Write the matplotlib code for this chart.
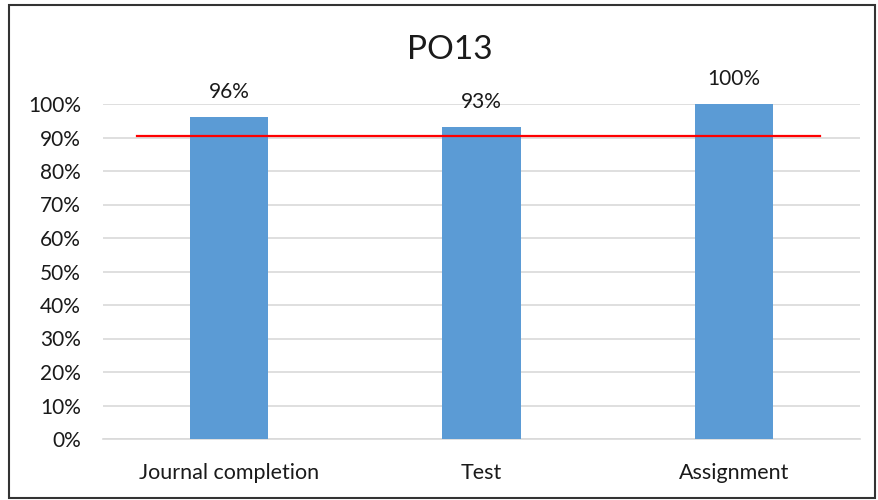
import matplotlib
matplotlib.use("Agg")
import matplotlib.pyplot as plt
from matplotlib.patches import Rectangle
from matplotlib.ticker import FuncFormatter, MultipleLocator

categories = ["Journal completion", "Test", "Assignment"]
values = [96, 93, 100]
value_labels = ["96%", "93%", "100%"]
target = 90.3
target_x = [-0.365, 2.34]
title = "PO13"

plt.rcParams['font.family'] = ['Lato', 'DejaVu Sans']
fig = plt.figure(figsize=(8.79, 5), dpi=100)
ax = fig.add_axes([103/879, 1-439/500, 757/879, 335/500])

x = list(range(len(categories)))
ax.bar(x, values, width=0.31, color="#5B9BD5", zorder=3)
ax.plot(target_x, [target, target], color="#FF0000", lw=1.6, zorder=4)
for xi, v, lab in zip(x, values, value_labels):
    ax.text(xi, v + 4.5, lab, ha="center", va="bottom", fontsize=15, color="#1a1a1a")

ax.set_xlim(-0.5, len(categories) - 0.5)
ax.set_ylim(0, 100)
ax.yaxis.set_major_locator(MultipleLocator(10))
ax.yaxis.set_major_formatter(FuncFormatter(lambda v, p: f"{int(round(v))}%"))
ax.set_xticks(x)
ax.set_xticklabels(categories)
ax.grid(axis="y", color="#D9D9D9", lw=1.2, zorder=0)
for s in ["top", "right", "left"]:
    ax.spines[s].set_visible(False)
ax.spines["bottom"].set_color("#D9D9D9")
ax.spines["bottom"].set_linewidth(1.2)
ax.tick_params(axis="both", length=0, labelsize=15, colors="#1a1a1a")
ax.tick_params(axis="x", labelsize=15.5, pad=17)
ax.tick_params(axis="y", pad=16)

fig.text(0.512, 1 - 50/500, title, ha="center", va="center", fontsize=24, color="#1a1a1a")
fig.patches.append(Rectangle((9/879, 2/500), 866/879, 493/500, transform=fig.transFigure,
                             fill=False, edgecolor="#333333", lw=1.5))
fig.savefig("out.png", dpi=100)
